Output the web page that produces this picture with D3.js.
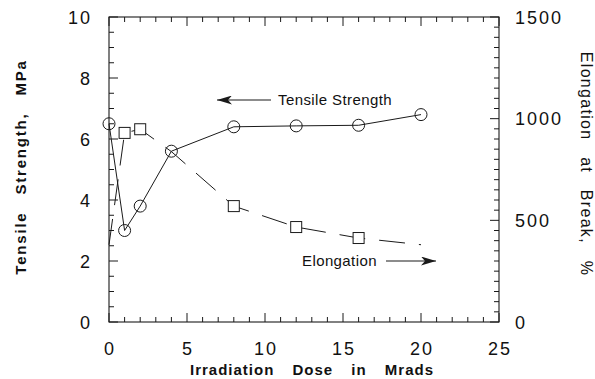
<!DOCTYPE html>
<html>
<head>
<meta charset="utf-8">
<script src="https://cdn.jsdelivr.net/npm/d3@7"></script>
<style>
  html, body { margin: 0; padding: 0; background: #fff; }
  svg { display: block; font-family: "Liberation Sans", Arial, Helvetica, sans-serif; }
  .tick-label { font-size: 18px; letter-spacing: 2px; fill: #111; }
  .title { font-size: 15px; font-weight: bold; letter-spacing: 1px; word-spacing: 13px; fill: #111; }
  .title.left { letter-spacing: 1.8px; word-spacing: 11px; }
  .title.right { font-size: 16px; font-weight: normal; letter-spacing: 1.3px; word-spacing: 11px; }
  .note { font-size: 15px; letter-spacing: 0.4px; fill: #111; }
</style>
</head>
<body>
<svg id="chart" width="595" height="379"></svg>
<script>
// Tensile strength (left axis, MPa) — circles, solid line
const tsDose = [0, 1, 2, 4, 8, 12, 16, 20];
const tsValue = [6.5, 3.0, 3.8, 5.6, 6.4, 6.43, 6.45, 6.8];

// Elongation at break (right axis, %) — squares, dashed line
const elDose = [0, 1, 2, 4, 8, 12, 16, 20];
const elValue = [380, 930, 948, 838, 570, 467, 413, 380];
const elMarked = [false, true, true, false, true, true, true, false];

const xTicks = [0, 5, 10, 15, 20, 25];
const yLeftTicks = [0, 2, 4, 6, 8, 10];
const yRightTicks = [0, 500, 1000, 1500];

const svg = d3.select("#chart");
const plotL = 109, plotR = 499, plotT = 17, plotB = 322;

const x = d3.scaleLinear().domain([0, 25]).range([plotL, plotR]);
const yL = d3.scaleLinear().domain([0, 10]).range([plotB, plotT]);
const yR = d3.scaleLinear().domain([0, 1500]).range([plotB, plotT]);

const ink = "#1a1a1a";

// frame
svg.append("rect")
  .attr("x", plotL).attr("y", plotT)
  .attr("width", plotR - plotL).attr("height", plotB - plotT)
  .attr("fill", "none").attr("stroke", ink).attr("stroke-width", 1.1);

// ticks (inward), minor + major
const g = svg.append("g").attr("stroke", ink).attr("stroke-width", 1);
d3.range(0, 25.01, 1).forEach((v) => {
  const len = v % 5 === 0 ? 9 : 5;
  g.append("line").attr("x1", x(v)).attr("x2", x(v)).attr("y1", plotB).attr("y2", plotB - len);
  g.append("line").attr("x1", x(v)).attr("x2", x(v)).attr("y1", plotT).attr("y2", plotT + len);
});
d3.range(0, 10.01, 0.5).forEach((v) => {
  const len = v % 2 === 0 ? 9 : 5;
  g.append("line").attr("x1", plotL).attr("x2", plotL + len).attr("y1", yL(v)).attr("y2", yL(v));
});
d3.range(0, 1500.1, 50).forEach((v) => {
  const len = v % 500 === 0 ? 9 : 5;
  g.append("line").attr("x1", plotR).attr("x2", plotR - len).attr("y1", yR(v)).attr("y2", yR(v));
});

// tick labels
svg.append("g").selectAll("text").data(xTicks).join("text")
  .attr("class", "tick-label")
  .attr("x", (d) => x(d) + 1).attr("y", 355)
  .attr("text-anchor", "middle")
  .text((d) => d);
svg.append("g").selectAll("text").data(yLeftTicks).join("text")
  .attr("class", "tick-label")
  .attr("x", 92).attr("y", (d) => yL(d) + 6.5)
  .attr("text-anchor", "end")
  .text((d) => d);
svg.append("g").selectAll("text").data(yRightTicks).join("text")
  .attr("class", "tick-label")
  .attr("x", 515).attr("y", (d) => yR(d) + 6.5)
  .attr("text-anchor", "start")
  .text((d) => d);

// axis titles
svg.append("text").attr("class", "title")
  .attr("x", 312).attr("y", 375).attr("text-anchor", "middle")
  .text("Irradiation Dose in Mrads");
svg.append("text").attr("class", "title left")
  .attr("transform", "translate(26,167) rotate(-90)")
  .attr("text-anchor", "middle")
  .text("Tensile Strength, MPa");
svg.append("text").attr("class", "title right")
  .attr("transform", "translate(581,164) rotate(90)")
  .attr("text-anchor", "middle")
  .text("Elongation at Break, %");

// series lines
const tsPts = tsDose.map((d, i) => [x(d), yL(tsValue[i])]);
const elPts = elDose.map((d, i) => [x(d), yR(elValue[i])]);

svg.append("path")
  .attr("d", d3.line()(elPts))
  .attr("fill", "none").attr("stroke", ink).attr("stroke-width", 1)
  .attr("stroke-dasharray", "26,14");

svg.append("path")
  .attr("d", d3.line()(tsPts))
  .attr("fill", "none").attr("stroke", ink).attr("stroke-width", 1);

// markers
svg.append("g").selectAll("rect").data(elPts.filter((p, i) => elMarked[i])).join("rect")
  .attr("x", (p) => p[0] - 5.5).attr("y", (p) => p[1] - 5.5)
  .attr("width", 11).attr("height", 11)
  .attr("fill", "#fff").attr("stroke", ink).attr("stroke-width", 1);

svg.append("g").selectAll("circle").data(tsPts).join("circle")
  .attr("cx", (p) => p[0]).attr("cy", (p) => p[1]).attr("r", 6)
  .attr("fill", "none").attr("stroke", ink).attr("stroke-width", 1);

// callout labels with arrows
svg.append("defs").append("marker")
  .attr("id", "head").attr("viewBox", "0 0 15 9")
  .attr("refX", 15).attr("refY", 4.5)
  .attr("markerWidth", 15).attr("markerHeight", 9)
  .attr("markerUnits", "userSpaceOnUse")
  .attr("orient", "auto")
  .append("path").attr("d", "M0,0 L15,4.5 L0,9 L4,4.5 Z").attr("fill", ink);

svg.append("text").attr("class", "note")
  .attr("x", 278).attr("y", 105).text("Tensile Strength");
svg.append("line")
  .attr("x1", 271).attr("y1", 100).attr("x2", 217).attr("y2", 100)
  .attr("stroke", ink).attr("stroke-width", 1.2).attr("marker-end", "url(#head)");

svg.append("text").attr("class", "note")
  .attr("x", 302).attr("y", 266).text("Elongation");
svg.append("line")
  .attr("x1", 386).attr("y1", 261).attr("x2", 436).attr("y2", 261)
  .attr("stroke", ink).attr("stroke-width", 1.2).attr("marker-end", "url(#head)");
</script>
</body>
</html>
